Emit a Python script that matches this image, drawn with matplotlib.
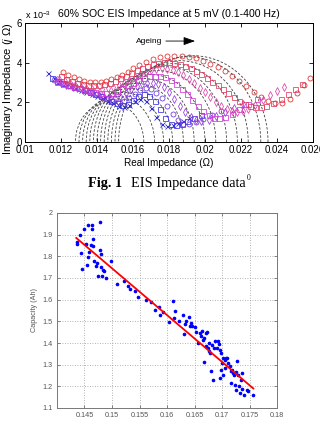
import matplotlib
matplotlib.use("Agg")
import matplotlib.pyplot as plt
from matplotlib.patches import Arc
from matplotlib.ticker import FixedLocator, FixedFormatter

plt.rcParams['font.family'] = ['Liberation Sans', 'DejaVu Sans']
plt.rcParams['mathtext.fontset'] = 'custom'
plt.rcParams['mathtext.rm'] = 'Liberation Sans'
plt.rcParams['mathtext.it'] = 'Liberation Sans:italic'

# ---------------- Top chart data: EIS Nyquist curves (imag in x10^-3 ohm) -------------
re_1 = [0.0113,0.0116,0.0119,0.0122,0.0125,0.0128,0.0131,0.0134,0.0137,0.0140,0.0143,0.0146,0.0149,0.0152,0.0155,0.0158,0.0161,0.0164,0.0167,0.0170,0.0173,0.0176,0.0179,0.0182,0.0185,0.0188,0.0191]
im_1 = [3.50,3.25,3.08,2.95,2.83,2.72,2.62,2.52,2.42,2.32,2.20,2.08,1.95,1.82,1.75,1.85,2.05,2.18,2.05,1.70,1.25,0.90,0.80,0.85,0.95,1.08,1.20]

re_2 = [0.0115,0.0118,0.0121,0.0124,0.0127,0.0130,0.0133,0.0136,0.0139,0.0142,0.0145,0.0148,0.0151,0.0154,0.0157,0.0160,0.0163,0.0166,0.0169,0.0172,0.0175,0.0178,0.0181,0.0184,0.0187,0.0190,0.0194,0.0198]
im_2 = [3.25,3.10,2.98,2.88,2.79,2.70,2.62,2.53,2.44,2.34,2.22,2.08,1.95,1.86,1.92,2.10,2.30,2.40,2.32,2.05,1.65,1.20,0.90,0.85,0.92,1.05,1.22,1.38]

re_3 = [0.0116,0.0119,0.0122,0.0125,0.0128,0.0131,0.0134,0.0137,0.0140,0.0143,0.0146,0.0149,0.0152,0.0155,0.0158,0.0161,0.0164,0.0167,0.0170,0.0173,0.0176,0.0179,0.0182,0.0185,0.0188,0.0191,0.0195,0.0199,0.0204,0.0209]
im_3 = [3.15,3.02,2.92,2.84,2.76,2.68,2.60,2.51,2.42,2.32,2.20,2.08,2.00,2.05,2.22,2.42,2.60,2.70,2.66,2.48,2.20,1.82,1.42,1.10,0.93,0.90,1.00,1.18,1.38,1.58]

re_4 = [0.0117,0.0120,0.0123,0.0126,0.0129,0.0132,0.0135,0.0138,0.0141,0.0144,0.0147,0.0150,0.0153,0.0156,0.0159,0.0162,0.0165,0.0168,0.0171,0.0174,0.0177,0.0180,0.0183,0.0186,0.0189,0.0192,0.0195,0.0198,0.0202,0.0206,0.0211,0.0216,0.0221]
im_4 = [3.10,2.98,2.88,2.80,2.72,2.64,2.56,2.47,2.38,2.29,2.22,2.22,2.32,2.48,2.66,2.82,2.94,3.00,3.00,2.92,2.75,2.50,2.18,1.82,1.50,1.25,1.10,1.05,1.12,1.30,1.52,1.72,1.90]

re_5 = [0.0118,0.0121,0.0124,0.0127,0.0130,0.0133,0.0136,0.0139,0.0142,0.0145,0.0148,0.0151,0.0154,0.0157,0.0160,0.0163,0.0166,0.0169,0.0172,0.0175,0.0178,0.0181,0.0184,0.0187,0.0190,0.0193,0.0196,0.0199,0.0202,0.0205,0.0208,0.0211,0.0215,0.0219,0.0224,0.0229]
im_5 = [3.05,2.94,2.85,2.77,2.70,2.63,2.57,2.51,2.47,2.45,2.48,2.57,2.70,2.85,3.00,3.14,3.25,3.32,3.35,3.33,3.26,3.12,2.92,2.68,2.40,2.10,1.80,1.55,1.35,1.22,1.20,1.25,1.42,1.65,1.90,2.15]

re_6 = [0.0119,0.0122,0.0125,0.0128,0.0131,0.0134,0.0137,0.0140,0.0143,0.0146,0.0149,0.0152,0.0155,0.0158,0.0161,0.0164,0.0167,0.0170,0.0173,0.0176,0.0179,0.0182,0.0185,0.0188,0.0191,0.0194,0.0197,0.0200,0.0203,0.0206,0.0209,0.0212,0.0215,0.0218,0.0221,0.0224,0.0228,0.0232,0.0236,0.0240,0.0244]
im_6 = [3.20,3.06,2.95,2.85,2.77,2.71,2.67,2.65,2.66,2.70,2.78,2.88,3.00,3.14,3.28,3.42,3.54,3.63,3.69,3.71,3.69,3.63,3.53,3.38,3.20,2.98,2.74,2.50,2.25,2.02,1.82,1.67,1.57,1.53,1.55,1.65,1.85,2.10,2.35,2.58,2.78]

re_7 = [0.0120,0.0123,0.0126,0.0129,0.0132,0.0135,0.0138,0.0141,0.0144,0.0147,0.0150,0.0153,0.0156,0.0159,0.0162,0.0165,0.0168,0.0171,0.0174,0.0177,0.0180,0.0183,0.0186,0.0189,0.0192,0.0195,0.0198,0.0201,0.0204,0.0207,0.0210,0.0213,0.0216,0.0219,0.0222,0.0225,0.0228,0.0231,0.0234,0.0238,0.0242,0.0246,0.0250,0.0254]
im_7 = [3.35,3.20,3.08,2.98,2.91,2.87,2.85,2.87,2.92,3.00,3.10,3.22,3.35,3.48,3.61,3.73,3.84,3.93,3.99,4.02,4.02,3.99,3.93,3.84,3.72,3.58,3.42,3.24,3.05,2.85,2.65,2.45,2.26,2.08,1.93,1.82,1.76,1.75,1.80,1.95,2.15,2.40,2.65,2.90]

re_8 = [0.01210,0.01240,0.01270,0.01300,0.01330,0.01360,0.01390,0.01420,0.01450,0.01480,0.01510,0.01540,0.01570,0.01600,0.01635,0.01670,0.01710,0.01750,0.01790,0.01830,0.01870,0.01910,0.01950,0.01990,0.02030,0.02070,0.02110,0.02150,0.02190,0.02230,0.02270,0.02310,0.02350,0.02390,0.02430,0.02470,0.02510,0.02550,0.02583]
im_8 = [3.53,3.40,3.28,3.18,3.10,3.05,3.03,3.05,3.10,3.18,3.28,3.40,3.55,3.72,3.90,4.05,4.18,4.28,4.34,4.36,4.35,4.30,4.22,4.10,3.95,3.78,3.58,3.35,3.10,2.82,2.52,2.25,2.05,1.95,1.98,2.15,2.45,2.85,3.23]

# fitted equivalent-circuit arcs (left end, right end, height x10^-3)
fit_left = [0.0128,0.0130,0.0132,0.0134,0.0136,0.0138,0.0140,0.0142,0.0144,0.0146,0.0148,0.0150,0.0152]
fit_right = [0.0166,0.0172,0.0177,0.0182,0.0188,0.0194,0.0200,0.0206,0.0212,0.0218,0.0224,0.0231,0.0235]
fit_height = [2.0,2.3,2.5,2.7,2.95,3.2,3.4,3.6,3.8,3.95,4.1,4.3,4.35]

top_xticks = [0.010,0.012,0.014,0.016,0.018,0.020,0.022,0.024,0.026]
top_xticklabels = ["0.01","0.012","0.014","0.016","0.018","0.02","0.022","0.024","0.026"]
top_yticks = [0, 2, 4, 6]

# ---------------- Bottom chart data: capacity vs Rs+Rct ----------------
r_sum = [0.14359,0.1437,0.1442,0.1444,0.1446,0.1449,0.1453,0.1455,0.1457,0.1457,0.1459,0.1461,0.1463,0.1464,0.1465,0.1466,0.1468,0.1471,0.1472,0.1475,0.1478,0.1478,0.1480,0.1480,0.1481,0.1483,0.1486,0.1489,0.1498,0.1509,0.1521,0.1529,0.1533,0.1541,0.1548,0.1562,0.1571,0.1578,0.1585,0.1588,0.1592,0.1603,0.1611,0.1612,0.1614,0.1622,0.1629,0.1630,0.1632,0.1635,0.1640,0.1641,0.1643,0.1646,0.1650,0.1653,0.1656,0.1660,0.1661,0.1664,0.1665,0.1667,0.1668,0.1670,0.1671,0.1673,0.1674,0.1676,0.1677,0.1679,0.1680,0.1682,0.1683,0.1685,0.1687,0.1690,0.1692,0.1694,0.1696,0.1697,0.1698,0.1699,0.1700,0.1702,0.1702,0.1705,0.1706,0.1708,0.1709,0.1711,0.1714,0.1716,0.1717,0.1719,0.1720,0.1722,0.1723,0.1725,0.1726,0.1728,0.1729,0.1731,0.1732,0.1734,0.1736,0.1737,0.1740,0.1745,0.1747,0.1757]
capacity = [1.866,1.857,1.900,1.815,1.742,1.926,1.857,1.758,1.946,1.795,1.820,1.854,1.946,1.926,1.880,1.846,1.777,1.754,1.769,1.711,1.960,1.828,1.811,1.751,1.708,1.738,1.731,1.700,1.777,1.674,1.685,1.662,1.649,1.638,1.612,1.600,1.589,1.554,1.566,1.531,1.542,1.497,1.595,1.515,1.546,1.500,1.531,1.443,1.488,1.500,1.518,1.477,1.492,1.477,1.472,1.451,1.400,1.446,1.431,1.454,1.415,1.312,1.423,1.446,1.388,1.449,1.377,1.400,1.362,1.354,1.269,1.392,1.228,1.377,1.408,1.377,1.408,1.397,1.238,1.369,1.274,1.354,1.308,1.331,1.254,1.323,1.285,1.331,1.331,1.308,1.295,1.215,1.269,1.277,1.262,1.254,1.208,1.265,1.185,1.315,1.254,1.200,1.169,1.228,1.262,1.188,1.158,1.185,1.177,1.162]
fit_x = [0.1435, 0.1757]
fit_y = [1.885, 1.190]

bot_xticks = [0.145,0.150,0.155,0.160,0.165,0.170,0.175,0.180]
bot_xticklabels = ["0.145","0.15","0.155","0.16","0.165","0.17","0.175","0.18"]
bot_yticks = [1.1,1.2,1.3,1.4,1.5,1.6,1.7,1.8,1.9,2.0]
bot_yticklabels = ["1.1","1.2","1.3","1.4","1.5","1.6","1.7","1.8","1.9","2"]

# ---------------- figure ----------------
fig = plt.figure(figsize=(3.2, 4.25), dpi=100)
fig.patch.set_facecolor('white')

# ---- top axes ----
ax1 = fig.add_axes([25/320, 1 - 142/425, 288/320, 119/425])
series_re = [re_1, re_2, re_3, re_4, re_5, re_6, re_7, re_8]
series_im = [im_1, im_2, im_3, im_4, im_5, im_6, im_7, im_8]
colors = ['#2020d8', '#3a30e0', '#6a34e0', '#9a38e0', '#d03ad8', '#e040a8', '#e03a60', '#e02a2a']
markers = ['x', 's', 'o', 'd', 's', 'd', 's', 'o']

for (L, R, H) in zip(fit_left, fit_right, fit_height):
    arc = Arc(((L + R) / 2, 0), R - L, 2 * H, theta1=0, theta2=180,
              color='#404040', lw=0.6, linestyle=(0, (3, 2)), zorder=1)
    ax1.add_patch(arc)

for xs, ys, c, m in zip(series_re, series_im, colors, markers):
    ax1.plot(xs, ys, linestyle='none', marker=m, markersize=3.6,
             markerfacecolor='none', markeredgecolor=c, markeredgewidth=0.55, zorder=2)

ax1.set_xlim(0.010, 0.026)
ax1.set_ylim(0, 6)
ax1.xaxis.set_major_locator(FixedLocator(top_xticks))
ax1.xaxis.set_major_formatter(FixedFormatter(top_xticklabels))
ax1.set_yticks(top_yticks)
ax1.tick_params(direction='in', length=3, width=0.6, labelsize=7, pad=2,
                top=True, right=True)
for s in ax1.spines.values():
    s.set_linewidth(0.7)
ax1.set_title("60% SOC EIS Impedance at 5 mV (0.1-400 Hz)", fontsize=7.6, pad=4)
ax1.text(0.0, 1.02, "x 10$^{-3}$", transform=ax1.transAxes, fontsize=6.5,
         ha='left', va='bottom')
ax1.set_xlabel("Real Impedance (\u03a9)", fontsize=7.2, labelpad=2)
ax1.set_ylabel("Imaginary Impedance ($j$ \u03a9)", fontsize=8)
ax1.yaxis.set_label_coords(-0.035, 0.45)
ax1.annotate('', xy=(0.01960, 5.09), xytext=(0.01767, 5.09),
             arrowprops=dict(arrowstyle='-|>,head_length=0.7,head_width=0.25',
                             color='k', lw=0.6))
ax1.text(0.01765, 5.09, "Ageing", fontsize=6, ha='right', va='center')

# caption
fig.text(88/320, 1 - 183/425, "Fig. 1", fontsize=10.3, family='Liberation Serif',
         weight='bold', ha='left', va='center')
fig.text(131/320, 1 - 183/425, "EIS Impedance data", fontsize=10.3,
         family='Liberation Serif', ha='left', va='center')
fig.text(247/320, 1 - 178/425, "0", fontsize=5.5, family='Liberation Serif',
         ha='left', va='center')

# ---- bottom axes ----
ax2 = fig.add_axes([57/320, 1 - 408/425, 220/320, 195/425])
ax2.plot(r_sum, capacity, linestyle='none', marker='.', markersize=3.2,
         color='#0000ff', zorder=3)
ax2.plot(fit_x, fit_y, color='#ff0000', lw=1.3, zorder=4)
ax2.set_xlim(0.14, 0.18)
ax2.set_ylim(1.1, 2.0)
ax2.xaxis.set_major_locator(FixedLocator(bot_xticks))
ax2.xaxis.set_major_formatter(FixedFormatter(bot_xticklabels))
ax2.yaxis.set_major_locator(FixedLocator(bot_yticks))
ax2.yaxis.set_major_formatter(FixedFormatter(bot_yticklabels))
ax2.grid(True, linestyle=(0, (1, 2)), color='#9a9a9a', lw=0.6)
ax2.set_axisbelow(True)
ax2.tick_params(direction='in', length=2, width=0.5, labelsize=5.2, pad=3,
                colors='#555555', top=True, right=True)
for s in ax2.spines.values():
    s.set_linewidth(0.7)
    s.set_color('#777777')
ax2.set_ylabel("Capacity (Ah)", fontsize=5.2, color='#555555', labelpad=3)
ax2.set_xlabel("R$_s$ +R$_{ct}$ (\u03a9)", fontsize=5.5, color='#555555', labelpad=5)

fig.savefig("out.png", dpi=100, facecolor='white')
